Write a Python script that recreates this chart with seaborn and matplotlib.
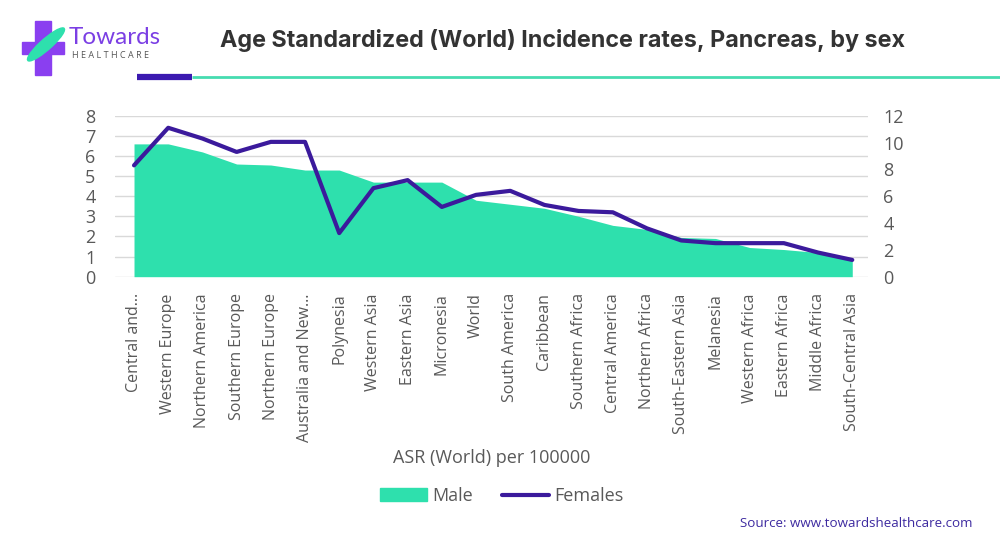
import numpy as np
import pandas as pd
import matplotlib
matplotlib.use("Agg")
import matplotlib.pyplot as plt
import seaborn as sns
from matplotlib.patches import Patch, Rectangle, Ellipse
from matplotlib.lines import Line2D

# datos
regiones = ['Central and...', 'Western Europe', 'Northern America', 'Southern Europe',
            'Northern Europe', 'Australia and New...', 'Polynesia', 'Western Asia',
            'Eastern Asia', 'Micronesia', 'World', 'South America', 'Caribbean',
            'Southern Africa', 'Central America', 'Northern Africa', 'South-Eastern Asia',
            'Melanesia', 'Western Africa', 'Eastern Africa', 'Middle Africa',
            'South-Central Asia']
male = [6.6, 6.6, 6.2, 5.6, 5.55, 5.3, 5.3, 4.7, 4.7, 4.7, 3.8, 3.6,
        3.4, 3.0, 2.55, 2.35, 1.95, 1.9, 1.45, 1.35, 1.2, 0.9]
females = [8.3, 11.1, 10.3, 9.3, 10.05, 10.05, 3.25, 6.6, 7.2, 5.2, 6.1, 6.4,
           5.35, 4.9, 4.8, 3.6, 2.7, 2.5, 2.5, 2.5, 1.8, 1.25]
ticks_izq = [0, 1, 2, 3, 4, 5, 6, 7, 8]
ticks_der = [0, 2, 4, 6, 8, 10, 12]

df = pd.DataFrame({'region': regiones, 'male': male, 'females': females})
df['pos'] = range(len(df))

color_area = "#2ee0ad"
color_linea = "#3b1a9c"
gris = "#595959"

sns.set_style("white")
plt.rcParams['font.family'] = ['Open Sans', 'DejaVu Sans']

fig = plt.figure(figsize=(10, 5.42), dpi=100)
ax1 = fig.add_axes([0.115, 0.4895, 0.753, 0.297])

#area hombres
ax1.fill_between(df['pos'], 0, df['male'], color=color_area, linewidth=0)
ax1.set_ylim(0, 8)
ax1.set_yticks(ticks_izq)
ax1.set_xlim(-0.556, 21.46)
ax1.grid(axis='y', color='#d9d9d9', linewidth=1)
ax1.set_axisbelow(True)
ax1.set_xticks(df['pos'])
ax1.set_xticklabels(regiones, rotation=90, fontsize=11.5, color=gris, va='top', ha='center')
ax1.tick_params(axis='y', labelsize=13, labelcolor=gris, length=0, pad=14)
ax1.tick_params(axis='x', length=0, pad=12)
ax1.set_xlabel('ASR (World) per 100000', fontsize=13, color=gris, labelpad=5)
for s in ax1.spines.values():
    s.set_visible(False)

#linea mujeres
ax2 = ax1.twinx()
sns.lineplot(data=df, x='pos', y='females', color=color_linea, linewidth=3, ax=ax2)
ax2.set_ylim(0, 12)
ax2.set_yticks(ticks_der)
ax2.set_ylabel('')
ax2.set_xlabel('')
ax2.tick_params(axis='y', labelsize=13, labelcolor=gris, length=0, pad=11)
for s in ax2.spines.values():
    s.set_visible(False)

handles = [Patch(color=color_area, label='Male'),
           Line2D([0], [0], color=color_linea, linewidth=3, label='Females')]
fig.legend(handles=handles, loc='center', bbox_to_anchor=(0.502, 0.085), ncol=2,
           frameon=False, fontsize=13, labelcolor=gris, handlelength=2.6,
           handletextpad=0.3, columnspacing=1.6)

#titulo
fig.text(0.22, 0.925, 'Age Standardized (World) Incidence rates, Pancreas, by sex',
         fontsize=16.8, fontweight='bold', color='#333333', va='center',
         family=['Inter', 'DejaVu Sans'])

#logo
fig.patches.append(Rectangle((0.022, 0.9), 0.042, 0.022, transform=fig.transFigure,
                             color='#8a3ff0', zorder=5))
fig.patches.append(Rectangle((0.035, 0.862), 0.016, 0.1, transform=fig.transFigure,
                             color='#8a3ff0', zorder=5))
fig.patches.append(Ellipse((0.046, 0.918), 0.014, 0.07, angle=-30, transform=fig.transFigure,
                           color='#2ee0ad', zorder=6))
fig.text(0.069, 0.93, 'Towards', fontsize=17.5, color='#7b3fe4', va='center',
         family=['Lato', 'DejaVu Sans'])
fig.text(0.072, 0.898, 'H E A L T H C A R E', fontsize=6.5, color='#555555', va='center')

#lineas bajo el titulo
fig.add_artist(Line2D([0.137, 0.192], [0.858, 0.858], color='#3b1ab0', linewidth=4.5,
                      transform=fig.transFigure, solid_capstyle='butt'))
fig.add_artist(Line2D([0.192, 1.0], [0.858, 0.858], color='#46dcb0', linewidth=2,
                      transform=fig.transFigure, solid_capstyle='butt'))

fig.text(0.972, 0.035, 'Source: www.towardshealthcare.com', fontsize=9.6, color='#3d2aa0',
         ha='right', va='center')

plt.savefig('out.png', dpi=100)
